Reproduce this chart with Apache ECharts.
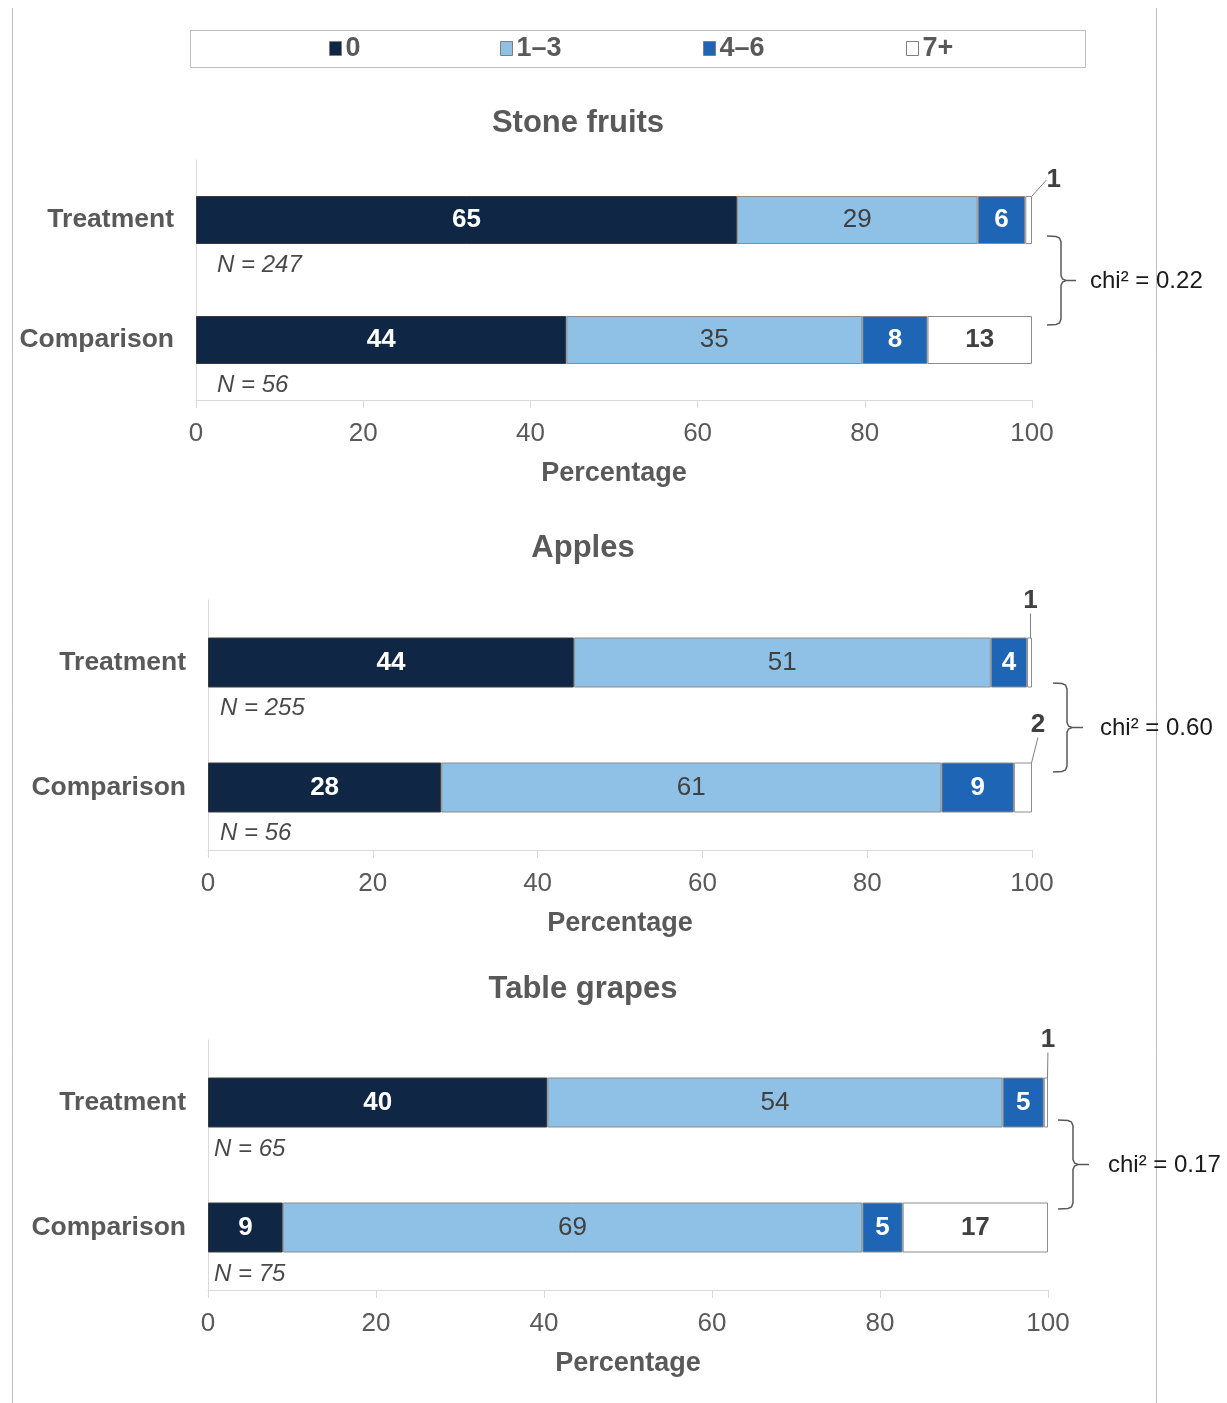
<!DOCTYPE html>
<html>
<head>
<meta charset="utf-8">
<script src="https://cdn.jsdelivr.net/npm/echarts@6/dist/echarts.min.js"></script>
<style>
html,body{margin:0;padding:0;background:#fff;}
#c{width:1227px;height:1403px;}
</style>
</head>
<body>
<div id="c"></div>
<script>
// ---- data ----
const categories = ['Treatment', 'Comparison'];
const panelTitles = ['Stone fruits', 'Apples', 'Table grapes'];
const seriesNames = ['0', '1–3', '4–6', '7+'];
const xTicks = [0, 20, 40, 60, 80, 100];

const stone0 = [64.7, 44.3];
const stone13 = [28.8, 35.4];
const stone46 = [5.7, 7.8];
const stone7 = [0.8, 12.5];
const stoneN = [247, 56];

const apples0 = [44.4, 28.3];
const apples13 = [50.6, 60.7];
const apples46 = [4.4, 8.8];
const apples7 = [0.6, 2.2];
const applesN = [255, 56];

const grapes0 = [40.4, 8.9];
const grapes13 = [54.2, 69.0];
const grapes46 = [4.9, 4.8];
const grapes7 = [0.5, 17.3];
const grapesN = [65, 75];

const chiValues = ['0.22', '0.60', '0.17'];

// ---- layout / style ----
const FONT = "'Liberation Sans', Arial, sans-serif";
const GRAY = '#595959';
const colors = ['#0f2645', '#8fc1e6', '#1f65b5', '#ffffff'];
const labelColors = ['#ffffff', '#404040', '#ffffff', '#404040'];
const labelWeights = ['bold', 'normal', 'bold', 'bold'];

const panelValues = [
  [stone0, stone13, stone46, stone7],
  [apples0, apples13, apples46, apples7],
  [grapes0, grapes13, grapes46, grapes7]
];
const panelN = [stoneN, applesN, grapesN];

const grids = [
  { left: 196, right: 195, top: 160, height: 240 },
  { left: 208, right: 195, top: 600, height: 250 },
  { left: 208, right: 179, top: 1040, height: 250 }
];
const barWidths = [48, 50, 50];
const titlePos = [[578, 108], [583, 533], [583, 974]];
const nOffsets = [[21, 45], [12, 46], [6, 47]];
// offsets for small outside labels [panel][category] -> [dx, dy]
const smallOffsets = [
  [[25, -40], null],
  [[1, -62], [15, -63]],
  [[2, -63], null]
];
// braces: [xLeft, yTop, yBottom, xVertical, xTip, textX]
const braces = [
  [1047, 236, 325, 1061, 1076, 1090],
  [1053, 683, 772, 1067, 1083, 1100],
  [1058, 1120, 1209, 1073, 1089, 1108]
];

const option = {
  animation: false,
  backgroundColor: '#ffffff',
  textStyle: { fontFamily: FONT },
  title: panelTitles.map((t, i) => ({
    text: t,
    left: titlePos[i][0],
    top: titlePos[i][1],
    textAlign: 'center',
    padding: 0,
    textStyle: { fontFamily: FONT, fontSize: 31, fontWeight: 'bold', color: GRAY }
  })),
  legend: seriesNames.map((n, i) => ({
    data: [n],
    left: [329, 500, 703, 906][i],
    top: 35,
    padding: 0,
    icon: 'rect',
    itemWidth: 12,
    itemHeight: 14,
    itemGap: 5,
    selectedMode: false,
    itemStyle: { borderColor: '#7f7f7f', borderWidth: 1 },
    textStyle: { fontFamily: FONT, fontSize: 27, fontWeight: 'bold', color: GRAY, padding: [5, 0, 0, -1] }
  })),
  grid: grids.map(g => Object.assign({ containLabel: false }, g)),
  xAxis: grids.map((g, i) => ({
    type: 'value',
    gridIndex: i,
    min: 0,
    max: 100,
    interval: 20,
    name: 'Percentage',
    nameLocation: 'middle',
    nameGap: 60,
    nameTextStyle: { fontFamily: FONT, fontSize: 27, fontWeight: 'bold', color: GRAY },
    axisLine: { show: true, lineStyle: { color: '#d9d9d9', width: 1 } },
    axisTick: { show: true, length: 8, lineStyle: { color: '#d9d9d9' } },
    splitLine: { show: false },
    axisLabel: { fontFamily: FONT, fontSize: 26, color: GRAY, margin: 21,
      formatter: v => xTicks.includes(v) ? String(v) : '' }
  })),
  yAxis: grids.map((g, i) => ({
    type: 'category',
    gridIndex: i,
    inverse: true,
    data: categories,
    axisLine: { show: true, lineStyle: { color: '#d9d9d9', width: 1 } },
    axisTick: { show: false },
    splitLine: { show: false },
    axisLabel: { fontFamily: FONT, fontSize: 26.5, fontWeight: 'bold', color: GRAY, margin: 22,
      padding: [6, 0, 0, 0] }
  })),
  series: [],
  graphic: []
};

panelValues.forEach((vals, p) => {
  vals.forEach((arr, s) => {
    const ser = {
      name: seriesNames[s],
      type: 'bar',
      stack: 'panel' + p,
      xAxisIndex: p,
      yAxisIndex: p,
      barWidth: barWidths[p],
      data: arr,
      itemStyle: { color: colors[s], borderColor: s === 0 ? '#3a3a3a' : '#8c8c8c', borderWidth: 1 },
      label: {
        show: true,
        position: 'inside',
        fontFamily: FONT,
        fontSize: 26,
        fontWeight: labelWeights[s],
        color: labelColors[s],
        padding: [6, 0, 0, 0],
        formatter: prm => String(Math.round(prm.value))
      },
      emphasis: { disabled: true },
      z: 2
    };
    if (s === 3) {
      ser.labelLine = { show: true, lineStyle: { color: '#7f7f7f', width: 1 } };
      ser.labelLayout = (prm) => {
        const off = smallOffsets[p][prm.dataIndex];
        return off ? { dx: off[0], dy: off[1] } : {};
      };
    }
    option.series.push(ser);
  });
  // N = labels anchored at x = 0 of each category
  option.series.push({
    name: 'N' + p,
    type: 'scatter',
    xAxisIndex: p,
    yAxisIndex: p,
    symbolSize: 0,
    silent: true,
    clip: false,
    data: categories.map((c, k) => [0, c, panelN[p][k]]),
    label: {
      show: true,
      position: nOffsets[p],
      align: 'left',
      verticalAlign: 'middle',
      fontFamily: FONT,
      fontSize: 24,
      fontStyle: 'italic',
      color: '#1a1a1a',
      formatter: prm => 'N = ' + prm.value[2]
    },
    z: 5
  });
});

// page border lines and legend box
option.graphic.push(
  { type: 'line', shape: { x1: 12.5, y1: 8, x2: 12.5, y2: 1403 }, style: { stroke: '#bfbfbf', lineWidth: 1 }, silent: true },
  { type: 'line', shape: { x1: 1156.5, y1: 8, x2: 1156.5, y2: 1403 }, style: { stroke: '#bfbfbf', lineWidth: 1 }, silent: true },
  { type: 'rect', shape: { x: 190.5, y: 30.5, width: 895, height: 37 }, style: { fill: 'none', stroke: '#bfbfbf', lineWidth: 1 }, silent: true }
);

braces.forEach((b, i) => {
  const [xl, yt, yb, xv, xt, tx] = b;
  const ym = (yt + yb) / 2;
  const pts = [
    [xl, yt], [xv - 5, yt + 0.5], [xv - 1.5, yt + 2], [xv, yt + 6],
    [xv, ym - 5], [xv + 1.5, ym - 1.5], [xv + 5, ym], [xt, ym],
    [xv + 5, ym], [xv + 1.5, ym + 1.5], [xv, ym + 5],
    [xv, yb - 6], [xv - 1.5, yb - 2], [xv - 5, yb - 0.5], [xl, yb]
  ];
  option.graphic.push({
    type: 'polyline', shape: { points: pts },
    style: { fill: 'none', stroke: '#595959', lineWidth: 1.5 }, silent: true
  });
  option.graphic.push({
    type: 'text', x: tx, y: ym + 1, silent: true,
    style: { text: 'chi² = ' + chiValues[i], fontFamily: FONT, fontSize: 24, fill: '#1a1a1a',
      textAlign: 'left', textVerticalAlign: 'middle' }
  });
});

const chart = echarts.init(document.getElementById('c'), null, { renderer: 'canvas' });
chart.setOption(option);
</script>
</body>
</html>
